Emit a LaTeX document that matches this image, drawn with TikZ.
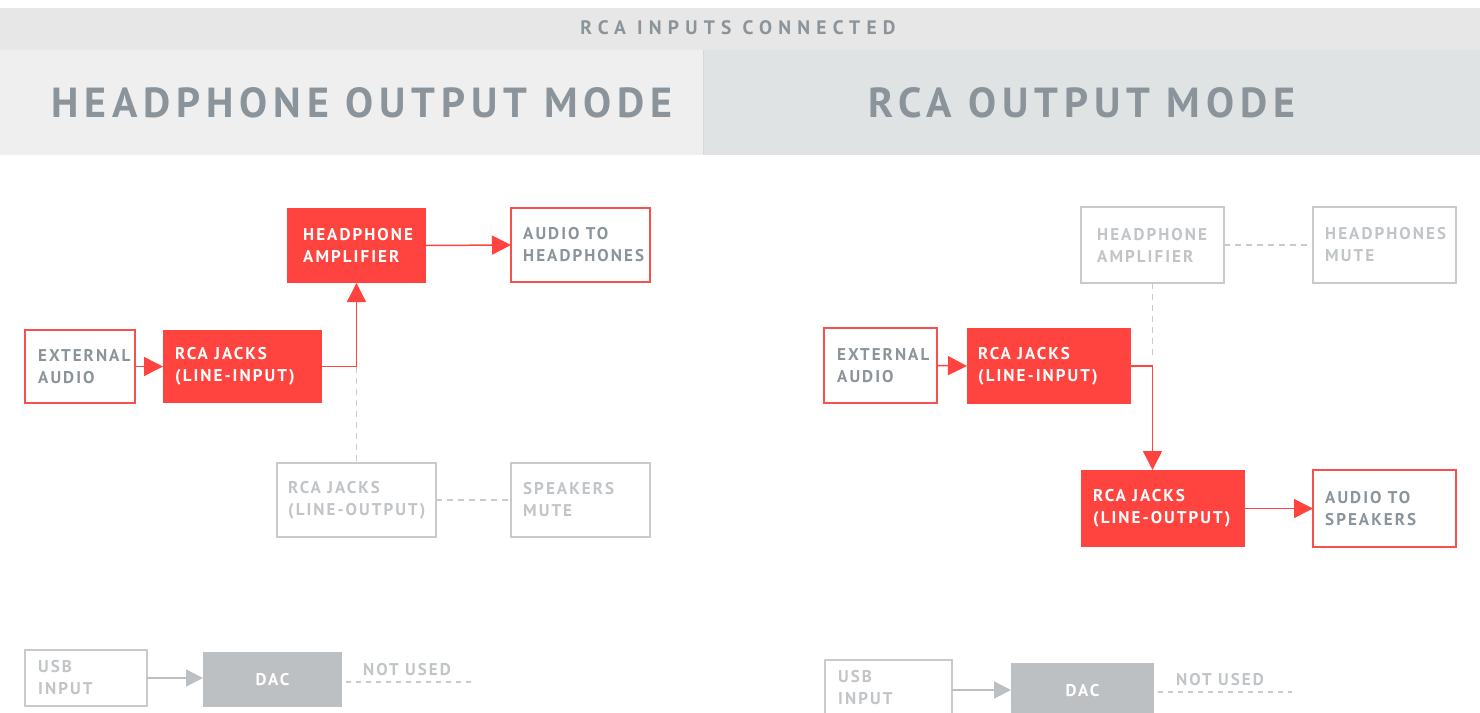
\documentclass[tikz,border=0pt]{standalone}
\usepackage{fontspec}
\setmainfont{PT Sans}
\usetikzlibrary{arrows.meta,calc}
\definecolor{bandgray}{HTML}{E7E7E7}
\definecolor{leftpanel}{HTML}{EFEFEF}
\definecolor{rightpanel}{HTML}{E0E3E4}
\definecolor{panelline}{HTML}{D6D9DA}
\definecolor{titlegray}{HTML}{8A949A}
\definecolor{hot}{HTML}{FF4440}
\definecolor{hotline}{HTML}{F7514E}
\definecolor{offline}{HTML}{C8CBCE}
\definecolor{offtext}{HTML}{C1C5C8}
\definecolor{dacgray}{HTML}{BDC0C2}
\newfontfamily\boxfontfam[LetterSpace=12]{PT Sans Bold}
\newfontfamily\titlefontfam[LetterSpace=14]{PT Sans Bold}
\newfontfamily\bandfontfam[LetterSpace=32]{PT Sans Bold}
\newcommand{\boxfont}{\boxfontfam\fontsize{17}{22}\selectfont}
\tikzset{
  base/.style={inner sep=0pt, outer sep=0pt, anchor=north west},
  redbox/.style={base, fill=hot},
  outbox/.style={base, draw=hotline, line width=1.5pt, fill=white},
  offbox/.style={base, draw=offline, line width=1.5pt, fill=white},
  dacbox/.style={base, fill=dacgray},
  lbl/.style={inner sep=0pt, anchor=west, align=left, font=\boxfont},
  hotarrow/.style={draw=hot, line width=1.5pt, -{Triangle[length=19pt,width=19pt]}},
  hotlink/.style={draw=hot, line width=1.5pt},
  offarrow/.style={draw=dacgray, line width=1.5pt, -{Triangle[length=17pt,width=17pt]}},
  offdash/.style={draw=offline, line width=1.5pt, dash pattern=on 6pt off 5pt},
}
% \bx{name}{style}{x1}{y1}{x2}{y2}{text colour}{text indent}
\newcommand{\bx}[8]{\node[#2, minimum width=#5-#3, minimum height=#6-#4] (#1) at (#3,#4) {};\node[lbl, text=#7] at ([xshift=#8pt]#1.west)}
\begin{document}
\begin{tikzpicture}[x=1pt,y=-1pt]
\useasboundingbox (0,0) rectangle (1480,712);
\clip (0,0) rectangle (1480,712);
% header bands
\fill[bandgray] (0,8) rectangle (1480,50);
\fill[leftpanel] (0,50) rectangle (703,155);
\fill[rightpanel] (703,50) rectangle (1480,155);
\draw[panelline, line width=1pt] (703,50) -- (703,155);
\node[font=\bandfontfam\fontsize{19.5}{21}\selectfont, text=titlegray, inner sep=0pt] (band) at (738,28) {RCA INPUTS CONNECTED};
\node[font=\titlefontfam\fontsize{42}{44}\selectfont, text=titlegray, inner sep=0pt] (t1) at (362,103) {HEADPHONE OUTPUT MODE};
\node[font=\titlefontfam\fontsize{42}{44}\selectfont, text=titlegray, inner sep=0pt] (t2) at (1082,103) {RCA OUTPUT MODE};

% ---------- left panel ----------
\bx{amp1}{redbox}{287}{208}{426}{283}{white}{16} {HEADPHONE\\AMPLIFIER};
\bx{ahp1}{outbox}{511}{208}{650}{282}{titlegray}{12} {AUDIO TO\\HEADPHONES};
\bx{ext1}{outbox}{25}{330}{135}{403}{titlegray}{13} {EXTERNAL\\AUDIO};
\bx{rin1}{redbox}{163}{330}{322}{403}{white}{12} {RCA JACKS\\(LINE-INPUT)};
\bx{lout1}{offbox}{277}{463}{436}{537}{offtext}{11} {RCA JACKS\\(LINE-OUTPUT)};
\bx{smute1}{offbox}{511}{463}{650}{537}{offtext}{12} {SPEAKERS\\MUTE};
\bx{usb1}{offbox}{25}{650}{147}{706}{offtext}{13} {USB\\INPUT};
\node[dacbox, minimum width=139, minimum height=55] (dac1) at (203,652) {};
\node[font=\boxfont, text=white, inner sep=0pt] at (dac1.center) {DAC};

\draw[hotarrow] (ext1.east) -- (rin1.west);
\coordinate (j1) at (rin1.east -| amp1.south);
\draw[offdash] (j1) -- (lout1.north);
\draw[hotlink] (rin1.east) -- (j1);
\draw[hotarrow] (j1) -- (amp1.south);
\draw[hotarrow] (amp1.east) -- (ahp1.west);
\draw[offdash] (lout1.east) -- (smute1.west);
\draw[offarrow] (usb1.east) -- (dac1.west |- usb1.east);
\coordinate (nu1) at (475,682);
\draw[offdash, line width=1.2pt, dash pattern=on 5pt off 5pt] ([xshift=4pt]dac1.east |- nu1) -- (nu1);
\node[font=\boxfont, text=offtext, inner sep=0pt, anchor=base west] (nut1) at (363,675) {NOT USED};

% ---------- right panel ----------
\bx{amp2}{offbox}{1081}{207}{1224}{283}{offtext}{16} {HEADPHONE\\AMPLIFIER};
\bx{hmute}{offbox}{1313}{207}{1456}{283}{offtext}{12} {HEADPHONES\\MUTE};
\bx{ext2}{outbox}{824}{328}{937}{403}{titlegray}{13} {EXTERNAL\\AUDIO};
\bx{rin2}{redbox}{967}{328}{1131}{404}{white}{11} {RCA JACKS\\(LINE-INPUT)};
\bx{lout2}{redbox}{1081}{470}{1245}{547}{white}{12} {RCA JACKS\\(LINE-OUTPUT)};
\bx{asp}{outbox}{1313}{470}{1456}{547}{titlegray}{12} {AUDIO TO\\SPEAKERS};
\bx{usb2}{offbox}{825}{660}{952}{716}{offtext}{13} {USB\\INPUT};
\node[dacbox, minimum width=143, minimum height=55] (dac2) at (1011,663) {};
\node[font=\boxfont, text=white, inner sep=0pt] at (dac2.center) {DAC};

\draw[offdash] (amp2.east) -- (hmute.west);
\coordinate (j2) at (rin2.east -| amp2.south);
\draw[offdash] (amp2.south) -- ([yshift=8pt]j2);
\draw[hotarrow] (ext2.east) -- (rin2.west);
\draw[hotarrow] (rin2.east) -- (j2) -- (j2 |- lout2.north);
\draw[hotarrow] (lout2.east) -- (asp.west);
\coordinate (u2) at (usb2.east |- 0,690);
\draw[offarrow] (u2) -- (dac2.west |- u2);
\coordinate (nu2) at (1292,692);
\draw[offdash, line width=1.2pt, dash pattern=on 5pt off 5pt] ([xshift=4pt]dac2.east |- nu2) -- (nu2);
\node[font=\boxfont, text=offtext, inner sep=0pt, anchor=base west] (nut2) at (1176,685) {NOT USED};
\end{tikzpicture}
\end{document}
